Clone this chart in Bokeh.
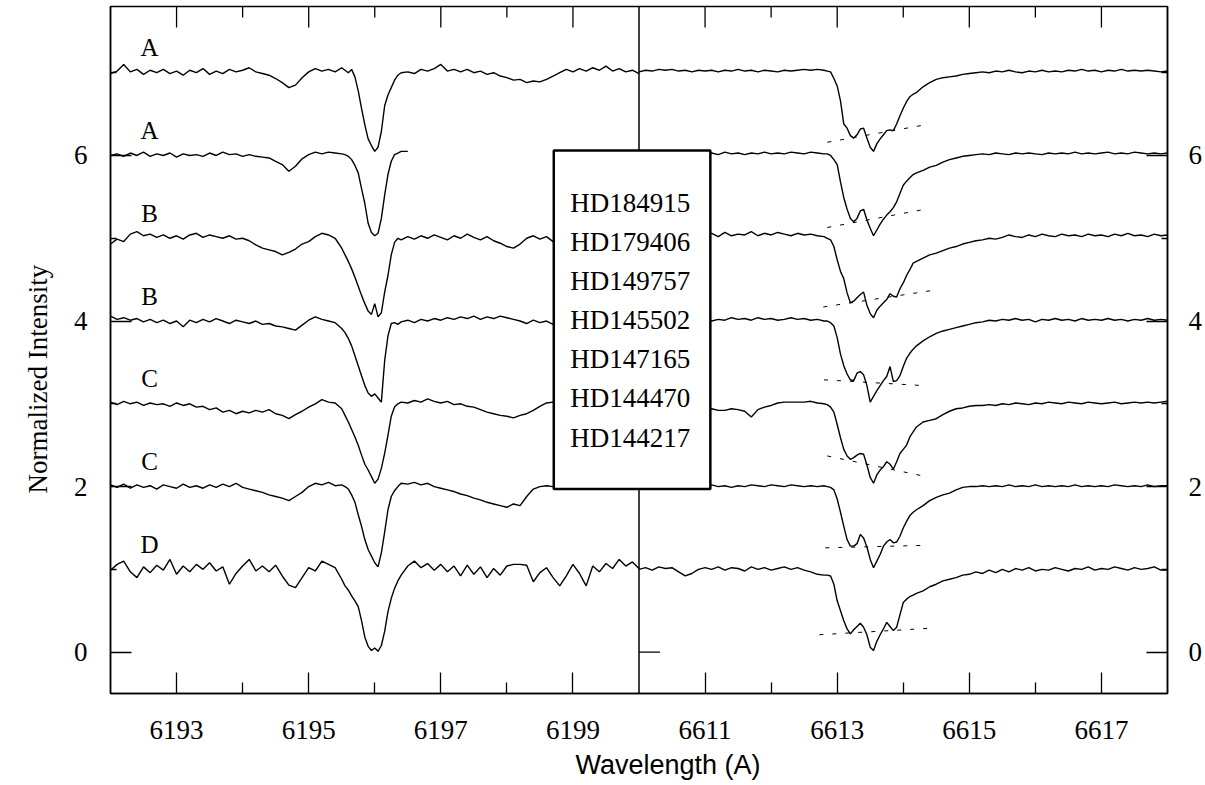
from bokeh.plotting import figure
from bokeh.models import Range1d, LinearAxis, FixedTicker, Span, Title
from bokeh.core.properties import value
from bokeh.embed import file_html
from bokeh.resources import INLINE

SERIF = "Liberation Serif"
SANS = "Liberation Sans"

# ---------------- data ----------------
STARS = ["HD184915", "HD179406", "HD149757", "HD145502", "HD147165", "HD144470", "HD144217"]
CLASSES = ["A", "A", "B", "B", "C", "C", "D"]
OFFSETS = [6, 5, 4, 3, 2, 1, 0]

LEFT_PANEL = (6192, 6200)
RIGHT_PANEL = (6610, 6618)
LEFT_MAJOR = [6193, 6195, 6197, 6199]
LEFT_MINOR = [6194, 6196, 6198]
RIGHT_MAJOR = [6611, 6613, 6615, 6617]
RIGHT_MINOR = [6612, 6614, 6616]
Y_MAJOR = [0, 2, 4, 6]
Y_MINOR = [1, 3, 5, 7]
Y_LIMITS = (-0.5, 7.8)

LEFT_WL = [6192.0, 6192.1, 6192.2, 6192.3, 6192.4, 6192.5, 6192.6, 6192.7, 6192.8, 6192.9,
           6193.0, 6193.1, 6193.2, 6193.3, 6193.4, 6193.5, 6193.6, 6193.7, 6193.8, 6193.9,
           6194.0, 6194.1, 6194.2, 6194.3, 6194.4, 6194.5, 6194.6, 6194.7, 6194.8, 6194.9,
           6195.0, 6195.1, 6195.2, 6195.3, 6195.4, 6195.5,
           6195.55, 6195.6, 6195.65, 6195.7, 6195.75, 6195.8, 6195.85, 6195.9, 6195.95,
           6196.0, 6196.05, 6196.1, 6196.15, 6196.2, 6196.25, 6196.3, 6196.35, 6196.4,
           6196.5, 6196.6, 6196.7, 6196.8, 6196.9,
           6197.0, 6197.1, 6197.2, 6197.3, 6197.4, 6197.5, 6197.6, 6197.7, 6197.8, 6197.9,
           6198.0, 6198.1, 6198.2, 6198.3, 6198.4, 6198.5, 6198.6, 6198.7, 6198.8, 6198.9,
           6199.0, 6199.1, 6199.2, 6199.3, 6199.4, 6199.5, 6199.6, 6199.7, 6199.8, 6199.9,
           6200.0]

RIGHT_WL = [6610.0, 6610.1, 6610.2, 6610.3, 6610.4, 6610.5, 6610.6, 6610.7, 6610.8, 6610.9,
            6611.0, 6611.1, 6611.2, 6611.3, 6611.4, 6611.5, 6611.6, 6611.7, 6611.8, 6611.9,
            6612.0, 6612.1, 6612.2, 6612.3, 6612.4, 6612.5, 6612.6, 6612.7, 6612.8,
            6612.85, 6612.9, 6612.95, 6613.0, 6613.05, 6613.1, 6613.15, 6613.2, 6613.25,
            6613.3, 6613.35, 6613.4, 6613.45, 6613.5, 6613.55, 6613.6, 6613.65, 6613.7,
            6613.75, 6613.8, 6613.85, 6613.9, 6613.95, 6614.0, 6614.05, 6614.1, 6614.15, 6614.2,
            6614.3, 6614.4, 6614.5, 6614.6, 6614.7, 6614.8, 6614.9,
            6615.0, 6615.1, 6615.2, 6615.3, 6615.4, 6615.5, 6615.6, 6615.7, 6615.8, 6615.9,
            6616.0, 6616.1, 6616.2, 6616.3, 6616.4, 6616.5, 6616.6, 6616.7, 6616.8, 6616.9,
            6617.0, 6617.1, 6617.2, 6617.3, 6617.4, 6617.5, 6617.6, 6617.7, 6617.8, 6617.9,
            6618.0]

# normalized intensities, 6196 A region
L_HD184915 = [0.99, 1.02, 1.10, 1.01, 1.04, 0.98, 1.03, 1.00, 1.04, 0.99,
              1.02, 0.97, 1.03, 1.00, 1.05, 0.98, 1.02, 0.99, 1.04, 1.01,
              1.03, 1.06, 1.01, 0.99, 0.97, 0.93, 0.88, 0.82, 0.85, 0.94,
              1.01, 1.05, 1.02, 1.04, 1.01, 1.06,
              1.03, 1.00, 1.04, 0.95, 0.78, 0.57, 0.37, 0.20, 0.12, 0.05, 0.10, 0.29, 0.60,
              0.73, 0.82, 0.91, 0.97, 1.00,
              1.01, 0.99, 1.04, 1.02, 1.05,
              1.10, 1.02, 1.04, 1.01, 1.04, 1.00, 1.02, 0.98, 1.00, 0.96,
              0.94, 0.91, 0.92, 0.88, 0.90, 0.89, 0.92, 0.96, 1.00, 1.04,
              1.01, 1.05, 1.02, 1.06, 1.03, 1.08, 1.02, 1.05, 1.01, 1.03,
              0.99]
L_HD179406 = [1.00, 1.02, 0.99, 1.03, 1.00, 1.04, 0.99, 1.02, 1.00, 1.03,
              0.98, 1.02, 1.00, 1.01, 0.99, 1.03, 1.00, 1.04, 1.01, 1.02,
              0.99, 1.01, 0.99, 0.98, 0.97, 0.93, 0.89, 0.81, 0.87, 0.96,
              1.01, 1.04, 1.02, 1.04, 1.03, 1.02,
              1.01, 0.99, 0.95, 0.88, 0.79, 0.60, 0.42, 0.18, 0.07, 0.03, 0.06, 0.24, 0.52,
              0.77, 0.93, 1.01, 1.03, 1.05,
              1.05]
L_HD149757 = [0.93, 0.99, 0.96, 1.05, 1.08, 1.03, 1.05, 1.01, 1.04, 1.00,
              1.03, 0.99, 1.04, 1.06, 1.01, 1.04, 1.02, 1.00, 1.03, 0.99,
              1.00, 0.97, 0.92, 0.88, 0.86, 0.84, 0.80, 0.83, 0.87, 0.93,
              0.96, 1.02, 1.06, 1.04, 1.00, 0.88,
              0.80, 0.72, 0.63, 0.53, 0.42, 0.31, 0.21, 0.12, 0.08, 0.21, 0.05, 0.10, 0.35,
              0.55, 0.80, 0.95, 1.00, 0.98,
              1.02, 0.99, 1.03, 1.00, 1.04,
              1.01, 0.98, 1.03, 1.00, 1.05, 1.01, 0.98, 1.02, 0.97, 0.94,
              0.90, 0.88, 0.93, 1.00, 1.03, 0.99, 1.02, 0.96, 1.00, 0.98,
              1.02, 0.99, 1.01, 0.98, 1.02, 1.00, 0.97, 1.01, 0.99, 1.02,
              0.98]
L_HD145502 = [1.06, 1.02, 1.04, 1.01, 1.03, 0.99, 1.02, 0.98, 1.01, 0.97,
              1.00, 0.93, 1.01, 0.98, 1.02, 0.99, 1.03, 1.00, 0.97, 1.01,
              0.99, 0.97, 1.00, 0.96, 0.97, 0.94, 0.93, 0.91, 0.89, 0.95,
              1.01, 1.05, 1.02, 1.00, 0.98, 0.91,
              0.86, 0.79, 0.70, 0.58, 0.46, 0.34, 0.22, 0.13, 0.09, 0.12, 0.07, 0.02, 0.52,
              0.82, 0.97, 0.98, 0.96, 0.99,
              1.01, 0.98, 1.02, 1.00, 1.03,
              1.01, 1.04, 1.02, 1.05, 1.03, 1.06, 1.02, 1.05, 1.03, 1.06,
              1.04, 1.02, 1.00, 0.97, 1.01, 0.98, 1.00, 0.96, 0.99, 0.97,
              1.00, 0.97, 0.99, 0.96, 0.98, 0.95, 0.97, 0.94, 0.96, 0.93,
              0.89]
L_HD147165 = [1.02, 0.99, 1.03, 1.00, 1.02, 0.98, 1.01, 0.99, 1.00, 0.97,
              1.01, 0.98, 1.00, 0.96, 0.97, 0.93, 0.95, 0.90, 0.92, 0.88,
              0.91, 0.89, 0.92, 0.90, 0.93, 0.88, 0.86, 0.82, 0.87, 0.91,
              0.96, 1.00, 1.05, 1.02, 1.01, 0.94,
              0.86, 0.78, 0.69, 0.60, 0.50, 0.38, 0.27, 0.20, 0.12, 0.04, 0.09, 0.22, 0.40,
              0.62, 0.85, 0.96, 1.00, 1.02,
              1.01, 1.04, 1.02, 1.06, 1.03,
              1.01, 1.03, 0.99, 1.00, 0.97, 0.96, 0.93, 0.90, 0.88, 0.86,
              0.85, 0.83, 0.86, 0.88, 0.92, 0.97, 1.01, 1.02, 1.00, 1.01,
              0.99, 1.02, 1.00, 1.01, 0.99, 1.02, 1.00, 0.98, 1.01, 1.00,
              1.02]
L_HD144470 = [1.02, 0.99, 1.03, 0.98, 1.02, 0.99, 1.01, 0.97, 1.02, 1.00,
              0.98, 1.03, 0.99, 1.01, 0.98, 1.02, 0.99, 1.03, 1.00, 1.04,
              0.99, 0.97, 0.95, 0.93, 0.90, 0.88, 0.86, 0.83, 0.88, 0.93,
              1.00, 1.04, 1.02, 1.05, 1.01, 1.02,
              1.00, 0.97, 0.90, 0.81, 0.66, 0.52, 0.36, 0.24, 0.16, 0.08, 0.03, 0.20, 0.45,
              0.72, 0.88, 0.95, 1.00, 1.04,
              1.03, 1.05, 1.02, 1.04, 1.00,
              0.98, 0.96, 0.94, 0.91, 0.89, 0.86, 0.84, 0.81, 0.79, 0.77,
              0.75, 0.79, 0.77, 0.88, 0.97, 1.00, 1.01, 1.00, 0.99, 1.01,
              0.98, 1.00, 0.99, 1.01, 0.98, 1.00, 1.02, 0.99, 1.01, 1.00,
              1.01]
L_HD144217 = [0.99, 1.06, 1.10, 0.97, 0.90, 1.03, 0.96, 1.05, 0.99, 1.12,
              0.94, 1.04, 0.97, 1.06, 1.00, 1.08, 0.98, 1.03, 0.82, 0.95,
              1.04, 1.12, 0.98, 1.04, 0.97, 1.05, 0.92, 0.81, 0.78, 0.90,
              1.02, 0.98, 1.10, 1.06, 1.02, 0.88,
              0.80, 0.75, 0.68, 0.62, 0.55, 0.38, 0.18, 0.07, 0.02, 0.05, 0.01, 0.08, 0.25,
              0.49, 0.65, 0.77, 0.86, 0.93,
              1.04, 1.10, 1.02, 1.07, 0.99,
              1.06, 0.97, 1.04, 0.92, 1.05, 0.94, 1.03, 0.90, 1.01, 0.93,
              1.04, 1.06, 1.06, 1.05, 0.85, 0.96, 1.02, 0.90, 0.80, 0.92,
              1.06, 0.95, 0.80, 1.04, 0.97, 1.07, 1.01, 1.12, 1.04, 1.09,
              1.01]

# normalized intensities, 6614 A region
R_HD184915 = [1.01, 1.03, 1.02, 1.04, 1.03, 1.04, 1.02, 1.03, 1.01, 1.03,
              1.02, 1.03, 1.01, 1.03, 1.02, 1.04, 1.02, 1.03, 1.01, 1.03,
              1.02, 1.01, 1.03, 1.02, 1.03, 1.04, 1.03, 1.04, 1.03,
              1.02, 1.01, 0.93, 0.84, 0.66, 0.38, 0.33, 0.24, 0.21, 0.25, 0.32, 0.33, 0.21, 0.10,
              0.05, 0.14, 0.20, 0.25, 0.30, 0.31, 0.30, 0.38, 0.48, 0.57, 0.65, 0.71, 0.74, 0.76,
              0.83, 0.88, 0.92, 0.94, 0.95, 0.96, 0.98,
              0.99, 1.00, 1.01, 1.00, 1.02, 1.01, 1.03, 1.01, 1.00, 1.02,
              1.01, 1.03, 1.01, 1.02, 1.01, 1.03, 1.02, 1.04, 1.02, 1.03,
              1.01, 1.03, 1.02, 1.04, 1.02, 1.03, 1.02, 1.03, 1.02, 1.01,
              1.02]
R_HD179406 = [1.02, 1.03, 1.01, 1.03, 1.02, 1.04, 1.02, 1.03, 1.01, 1.03,
              1.02, 1.03, 1.01, 1.04, 1.02, 1.03, 1.01, 1.03, 1.02, 1.04,
              1.02, 1.03, 1.02, 1.04, 1.03, 1.02, 1.04, 1.03, 1.02,
              1.02, 1.00, 0.95, 0.89, 0.68, 0.49, 0.35, 0.24, 0.20, 0.24, 0.33, 0.35, 0.22, 0.12,
              0.03, 0.10, 0.17, 0.23, 0.28, 0.32, 0.37, 0.44, 0.54, 0.64, 0.69, 0.73, 0.77, 0.79,
              0.82, 0.86, 0.88, 0.92, 0.95, 0.97, 0.99,
              1.00, 1.01, 1.02, 1.01, 1.03, 1.02, 1.01, 1.03, 1.02, 1.03,
              1.02, 1.01, 1.03, 1.02, 1.03, 1.02, 1.04, 1.02, 1.03, 1.02,
              1.03, 1.04, 1.02, 1.03, 1.02, 1.04, 1.03, 1.02, 1.03, 1.02,
              1.03]
R_HD149757 = [1.02, 1.04, 1.01, 1.05, 1.03, 1.06, 1.02, 1.04, 1.01, 1.05,
              1.03, 1.06, 1.02, 1.07, 1.03, 1.05, 1.04, 1.08, 1.03, 1.06,
              1.04, 1.07, 1.05, 1.03, 1.06, 1.04, 1.05, 1.03, 1.02,
              1.00, 0.98, 0.90, 0.74, 0.60, 0.51, 0.34, 0.22, 0.24, 0.28, 0.32, 0.35, 0.19, 0.09,
              0.04, 0.13, 0.18, 0.22, 0.26, 0.33, 0.30, 0.29, 0.39, 0.46, 0.55, 0.62, 0.70, 0.72,
              0.76, 0.80, 0.82, 0.85, 0.88, 0.90, 0.93,
              0.95, 0.97, 0.98, 1.00, 0.99, 1.01, 1.04, 1.02, 1.01, 1.04,
              1.02, 1.05, 1.03, 1.02, 1.05, 1.03, 1.04, 1.02, 1.05, 1.03,
              1.04, 1.02, 1.05, 1.03, 1.06, 1.03, 1.04, 1.02, 1.05, 1.03,
              1.04]
R_HD145502 = [1.00, 1.02, 0.99, 1.03, 1.01, 1.04, 1.00, 1.02, 0.98, 1.01,
              1.03, 1.00, 1.02, 1.01, 1.04, 1.02, 1.03, 1.01, 1.04, 1.02,
              1.03, 1.01, 1.02, 1.04, 1.02, 1.03, 1.01, 1.02, 1.00,
              1.00, 0.98, 0.94, 0.80, 0.60, 0.46, 0.36, 0.29, 0.28, 0.37, 0.39, 0.35, 0.22, 0.02,
              0.09, 0.16, 0.22, 0.28, 0.33, 0.45, 0.27, 0.28, 0.34, 0.45, 0.55, 0.61, 0.66, 0.70,
              0.76, 0.81, 0.85, 0.88, 0.90, 0.92, 0.94,
              0.96, 0.98, 0.99, 1.01, 1.00, 1.02, 1.01, 1.03, 1.01, 1.02,
              0.99, 1.02, 1.01, 1.03, 1.01, 1.02, 1.00, 1.03, 1.01, 1.02,
              1.01, 1.03, 1.01, 1.02, 1.00, 1.02, 1.01, 1.03, 1.01, 1.02,
              1.01]
R_HD147165 = [0.95, 0.93, 0.95, 0.94, 0.96, 0.94, 0.93, 0.95, 0.93, 0.94,
              0.93, 0.94, 0.92, 0.92, 0.94, 0.93, 0.91, 0.84, 0.93, 0.96,
              0.98, 1.01, 1.02, 1.02, 1.02, 1.02, 1.03, 1.01, 1.00,
              0.99, 0.96, 0.90, 0.75, 0.59, 0.45, 0.37, 0.33, 0.35, 0.38, 0.40, 0.39, 0.26, 0.11,
              0.04, 0.14, 0.20, 0.24, 0.30, 0.27, 0.21, 0.30, 0.40, 0.45, 0.50, 0.60, 0.66, 0.72,
              0.78, 0.80, 0.82, 0.87, 0.91, 0.94, 0.95,
              0.97, 0.98, 0.98, 0.99, 0.98, 1.00, 0.99, 1.01, 1.00, 0.99,
              1.01, 1.00, 1.02, 1.01, 1.00, 1.02, 1.01, 1.00, 1.02, 1.01,
              1.00, 1.01, 1.02, 1.00, 1.01, 1.02, 1.01, 1.02, 1.01, 1.02,
              1.03]
R_HD144470 = [1.00, 1.01, 0.99, 1.01, 1.00, 1.02, 1.00, 1.01, 0.99, 1.01,
              1.00, 1.02, 1.00, 1.01, 0.99, 1.01, 1.00, 1.02, 1.01, 1.00,
              1.02, 1.01, 1.00, 1.02, 1.01, 1.00, 1.01, 1.00, 1.01,
              1.00, 0.99, 0.96, 0.85, 0.69, 0.52, 0.36, 0.28, 0.28, 0.31, 0.42, 0.38, 0.27, 0.12,
              0.02, 0.10, 0.18, 0.28, 0.33, 0.36, 0.32, 0.33, 0.40, 0.50, 0.58, 0.65, 0.69, 0.72,
              0.77, 0.83, 0.87, 0.90, 0.92, 0.96, 0.99,
              1.00, 1.00, 1.01, 1.00, 1.01, 1.00, 1.02, 1.00, 1.01, 1.00,
              1.02, 1.00, 1.01, 1.00, 1.01, 1.00, 1.02, 1.00, 1.01, 1.00,
              1.01, 1.00, 1.02, 1.01, 1.00, 1.01, 1.00, 1.02, 1.00, 1.01,
              1.01]
R_HD144217 = [1.00, 1.02, 0.99, 1.03, 1.01, 1.02, 0.97, 0.92, 0.95, 1.00,
              1.02, 1.00, 1.03, 0.99, 1.02, 1.01, 0.98, 1.03, 1.00, 1.02,
              0.99, 1.01, 1.03, 1.00, 1.02, 0.99, 0.97, 0.94, 0.93,
              0.93, 0.92, 0.82, 0.62, 0.50, 0.38, 0.28, 0.22, 0.27, 0.31, 0.35, 0.30, 0.21, 0.06,
              0.02, 0.13, 0.21, 0.28, 0.36, 0.31, 0.26, 0.30, 0.45, 0.60, 0.64, 0.67, 0.69, 0.71,
              0.74, 0.79, 0.82, 0.86, 0.88, 0.90, 0.93,
              0.94, 0.97, 0.95, 0.99, 0.96, 1.00, 0.97, 1.01, 0.99, 1.02,
              0.98, 1.00, 0.99, 1.02, 1.00, 0.98, 1.01, 1.00, 1.03, 0.99,
              1.01, 1.00, 1.03, 1.01, 0.99, 1.02, 1.00, 1.01, 1.03, 0.99,
              0.99]

LEFT_FLUX = [L_HD184915, L_HD179406, L_HD149757, L_HD145502, L_HD147165, L_HD144470, L_HD144217]
RIGHT_FLUX = [R_HD184915, R_HD179406, R_HD149757, R_HD145502, R_HD147165, R_HD144470, R_HD144217]

# dashed reference lines across the 6614 core (normalized, before offset)
DASH_X0 = [6612.85, 6612.85, 6612.79, 6612.80, 6612.85, 6612.82, 6612.73]
DASH_Y0 = [0.16, 0.13, 0.17, 0.29, 0.37, 0.26, 0.21]
DASH_X1 = [6614.33, 6614.33, 6614.53, 6614.30, 6614.35, 6614.33, 6614.45]
DASH_Y1 = [0.37, 0.35, 0.38, 0.22, 0.12, 0.29, 0.29]

# ---------------- figure ----------------
FRAME_W, FRAME_H = 1059, 687
shift = RIGHT_PANEL[0] - LEFT_PANEL[1]          # gap (in A) between the two windows
x_lo, x_hi = LEFT_PANEL[0], LEFT_PANEL[1] + (RIGHT_PANEL[1] - RIGHT_PANEL[0])

p = figure(width=1205, height=785, output_backend="svg", toolbar_location=None,
           x_range=Range1d(x_lo, x_hi), y_range=Range1d(*Y_LIMITS),
           x_axis_location=None, y_axis_location=None,
           min_border_left=110, min_border_right=36, min_border_top=6, min_border_bottom=92)
p.extra_x_ranges = {"right": Range1d(x_lo + shift, x_hi + shift)}
p.grid.grid_line_color = None
p.outline_line_color = "black"
p.outline_line_width = 1.5
p.background_fill_color = "white"
p.border_fill_color = "white"

x_major = LEFT_MAJOR + [t - shift for t in RIGHT_MAJOR]
x_minor = LEFT_MINOR + [t - shift for t in RIGHT_MINOR]
x_over = {t - shift: str(t) for t in RIGHT_MAJOR}


def style(ax, minor_len, standoff):
    ax.axis_line_color = "black"
    ax.axis_line_width = 1.5
    ax.major_tick_in = 21
    ax.major_tick_out = 0
    ax.minor_tick_in = minor_len
    ax.minor_tick_out = 0
    ax.major_tick_line_width = 1.3
    ax.minor_tick_line_width = 1.3
    ax.major_label_text_font = SERIF
    ax.major_label_text_font_size = "27px"
    ax.major_label_text_color = "black"
    ax.major_label_standoff = standoff


xb = LinearAxis(ticker=FixedTicker(ticks=x_major, minor_ticks=x_minor),
                major_label_overrides=x_over)
style(xb, 11, 27)
p.add_layout(xb, "below")

yl = LinearAxis(ticker=FixedTicker(ticks=Y_MAJOR, minor_ticks=Y_MINOR))
style(yl, 6, 23)
p.add_layout(yl, "left")

yr = LinearAxis(ticker=FixedTicker(ticks=Y_MAJOR, minor_ticks=Y_MINOR))
style(yr, 6, 21)
p.add_layout(yr, "right")

# axis titles (as side titles so they can sit where the reference puts them)
p.add_layout(Title(text="Wavelength (A)", align="left", offset=465, standoff=12,
                   text_font=SANS, text_font_size="27px", text_font_style="normal",
                   text_color="black"), "below")
p.add_layout(Title(text="Normalized Intensity", align="left", offset=200, standoff=36,
                   text_font=SERIF, text_font_size="27px", text_font_style="normal",
                   text_color="black"), "left")

# inward ticks along the top edge of both windows
x_per_px = (x_hi - x_lo) / FRAME_W
y_per_px = (Y_LIMITS[1] - Y_LIMITS[0]) / FRAME_H
top = Y_LIMITS[1]
p.segment(x0=x_major, x1=x_major, y0=[top] * len(x_major), y1=[top - 21 * y_per_px] * len(x_major),
          line_color="black", line_width=1.3)
p.segment(x0=x_minor, x1=x_minor, y0=[top] * len(x_minor), y1=[top - 11 * y_per_px] * len(x_minor),
          line_color="black", line_width=1.3)

# divider between the two wavelength windows, with its own inward ticks
p.add_layout(Span(location=LEFT_PANEL[1], dimension="height", line_color="black",
                  line_width=1.5, level="underlay"))
p.segment(x0=[LEFT_PANEL[1]] * len(Y_MAJOR), x1=[LEFT_PANEL[1] + 21 * x_per_px] * len(Y_MAJOR),
          y0=Y_MAJOR, y1=Y_MAJOR, line_color="black", line_width=1.3)

# spectra
for flux, off in zip(LEFT_FLUX, OFFSETS):
    p.line(LEFT_WL[:len(flux)], [v + off for v in flux], line_color="black", line_width=1.4)
for flux, off in zip(RIGHT_FLUX, OFFSETS):
    p.line(RIGHT_WL, [v + off for v in flux], line_color="black", line_width=1.4,
           x_range_name="right")

p.segment(x0=DASH_X0, x1=DASH_X1,
          y0=[v + o for v, o in zip(DASH_Y0, OFFSETS)],
          y1=[v + o for v, o in zip(DASH_Y1, OFFSETS)],
          line_color="black", line_width=1.0, line_dash="4 9", x_range_name="right")

# class letters
p.text(x=[6192.59] * len(CLASSES), y=[o + 1.3 for o in OFFSETS], text=CLASSES,
       text_font=value(SERIF), text_font_size="25px", text_color="black",
       text_align="center", text_baseline="middle")

# star list box
p.quad(left=[6198.71], right=[6201.08], bottom=[1.97], top=[6.06],
       fill_color="white", line_color="black", line_width=2.5)
p.text(x=[6198.96] * len(STARS), y=[5.43 - 0.473 * i for i in range(len(STARS))], text=STARS,
       text_font=value(SERIF), text_font_size="27px", text_color="black",
       text_align="left", text_baseline="middle")

open("out.html", "w").write(file_html(p, INLINE))
